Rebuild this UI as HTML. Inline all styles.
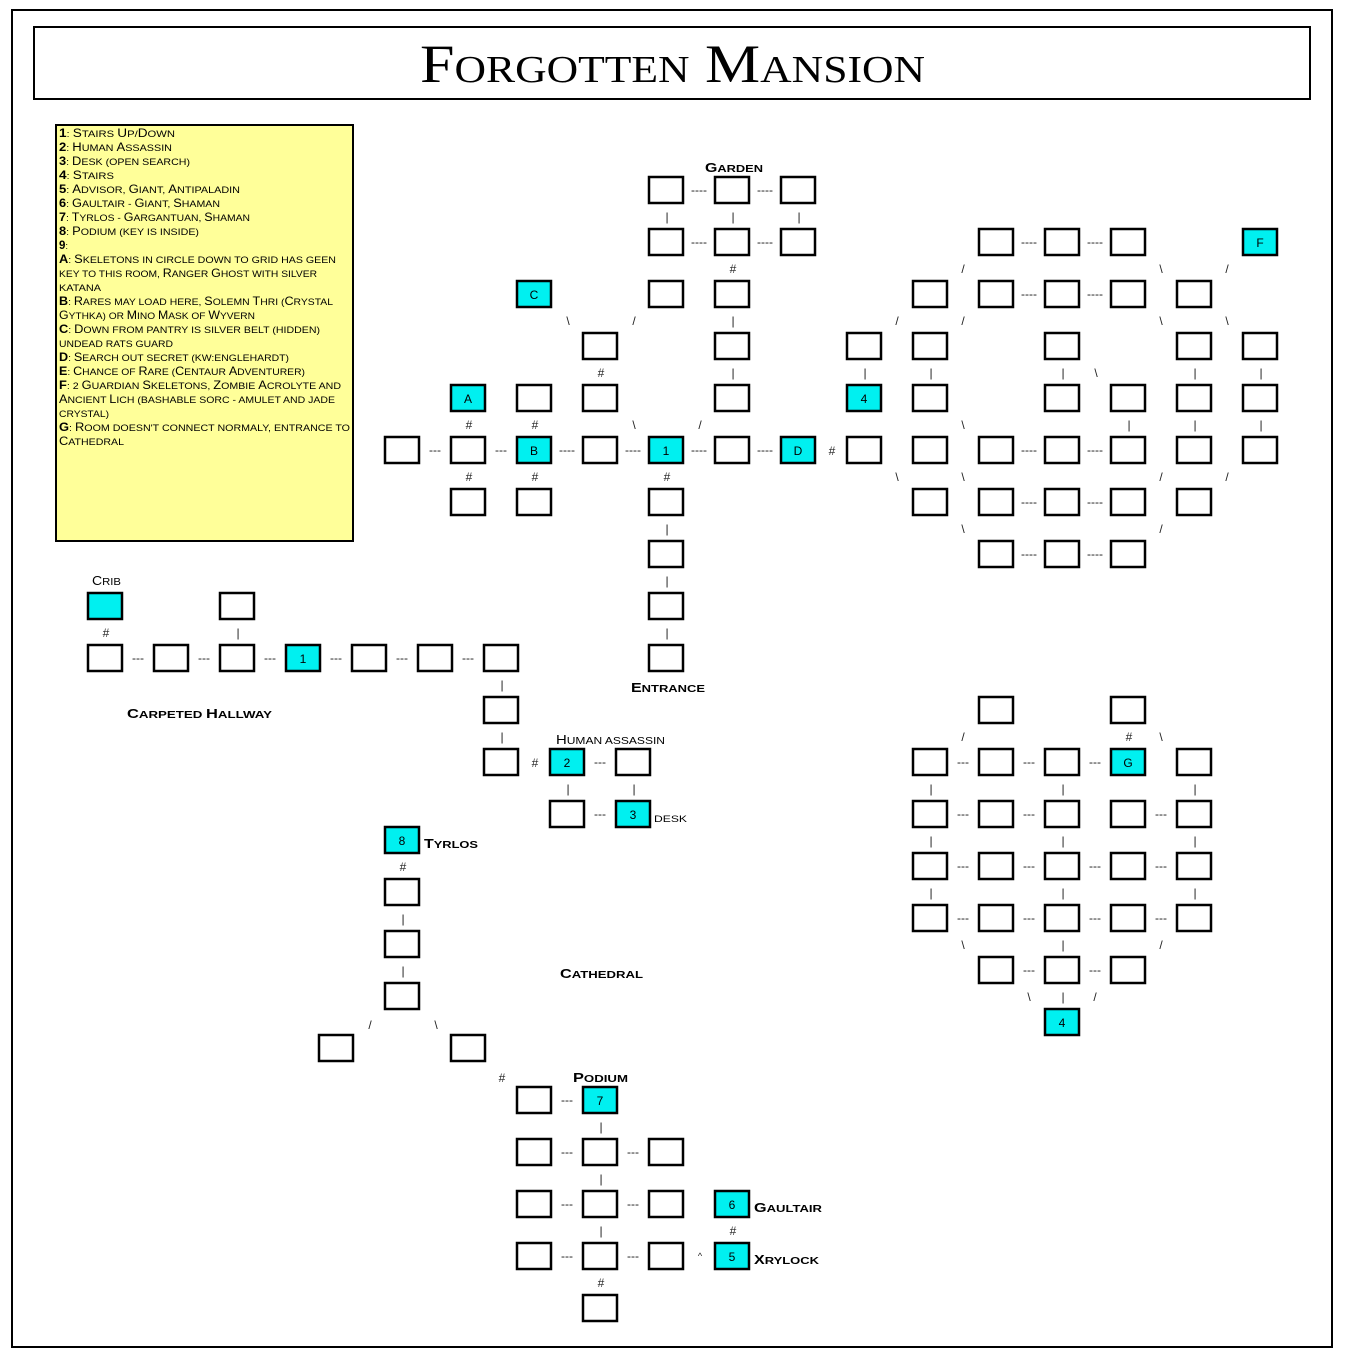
<!DOCTYPE html>
<html><head><meta charset="utf-8"><style>
html,body{margin:0;padding:0;background:#fff}
svg{display:block}
.b{fill:#fff;stroke:#000;stroke-width:2.5}
.c{fill:#00f0f0;stroke:#000;stroke-width:2.5}
.t{font-family:"Liberation Sans",sans-serif;font-size:12px;text-anchor:middle;fill:#000}
.k{font-family:"Liberation Sans",sans-serif;font-size:12px;text-anchor:middle;fill:#222}
.l{font-family:"Liberation Sans",sans-serif;font-weight:bold;font-size:10.5px;fill:#000}
.l tspan{font-size:13px}
.g{font-family:"Liberation Sans",sans-serif;font-size:9.5px;fill:#000}
.g tspan{font-size:11.5px}
.g tspan.n{font-weight:bold}
</style></head><body>
<svg width="1346" height="1360" xmlns="http://www.w3.org/2000/svg">
<rect x="12" y="10" width="1320" height="1337" fill="#fff" stroke="#000" stroke-width="2"/>
<rect x="34" y="27" width="1276" height="72" fill="#fff" stroke="#000" stroke-width="2"/>
<text x="420" y="82" textLength="505" lengthAdjust="spacingAndGlyphs" style="font-family:'Liberation Serif',serif;font-variant:small-caps;font-size:54px;fill:#000">Forgotten Mansion</text>

<rect x="56" y="125" width="297" height="416" fill="#ffff99" stroke="#000" stroke-width="2"/>
<g class="g">
<text x="59" y="137" textLength="116" lengthAdjust="spacingAndGlyphs"><tspan class="n">1</tspan>: <tspan>S</tspan>TAIRS <tspan>U</tspan>P/<tspan>D</tspan>OWN</text>
<text x="59" y="151" textLength="113" lengthAdjust="spacingAndGlyphs"><tspan class="n">2</tspan>: <tspan>H</tspan>UMAN <tspan>A</tspan>SSASSIN</text>
<text x="59" y="165" textLength="131" lengthAdjust="spacingAndGlyphs"><tspan class="n">3</tspan>: <tspan>D</tspan>ESK (OPEN SEARCH)</text>
<text x="59" y="179" textLength="55" lengthAdjust="spacingAndGlyphs"><tspan class="n">4</tspan>: <tspan>S</tspan>TAIRS</text>
<text x="59" y="193" textLength="181" lengthAdjust="spacingAndGlyphs"><tspan class="n">5</tspan>: <tspan>A</tspan>DVISOR, <tspan>G</tspan>IANT, <tspan>A</tspan>NTIPALADIN</text>
<text x="59" y="207" textLength="161" lengthAdjust="spacingAndGlyphs"><tspan class="n">6</tspan>: <tspan>G</tspan>AULTAIR - <tspan>G</tspan>IANT, <tspan>S</tspan>HAMAN</text>
<text x="59" y="221" textLength="191" lengthAdjust="spacingAndGlyphs"><tspan class="n">7</tspan>: <tspan>T</tspan>YRLOS - <tspan>G</tspan>ARGANTUAN, <tspan>S</tspan>HAMAN</text>
<text x="59" y="235" textLength="140" lengthAdjust="spacingAndGlyphs"><tspan class="n">8</tspan>: <tspan>P</tspan>ODIUM (KEY IS INSIDE)</text>
<text x="59" y="249"><tspan class="n">9</tspan>:</text>
<text x="59" y="263" textLength="277" lengthAdjust="spacingAndGlyphs"><tspan class="n">A</tspan>: <tspan>S</tspan>KELETONS IN CIRCLE DOWN TO GRID HAS GEEN</text>
<text x="59" y="277" textLength="258" lengthAdjust="spacingAndGlyphs">KEY TO THIS ROOM, <tspan>R</tspan>ANGER <tspan>G</tspan>HOST WITH SILVER</text>
<text x="59" y="291" textLength="42" lengthAdjust="spacingAndGlyphs">KATANA</text>
<text x="59" y="305" textLength="274" lengthAdjust="spacingAndGlyphs"><tspan class="n">B</tspan>: <tspan>R</tspan>ARES MAY LOAD HERE, <tspan>S</tspan>OLEMN <tspan>T</tspan>HRI (<tspan>C</tspan>RYSTAL</text>
<text x="59" y="319" textLength="196" lengthAdjust="spacingAndGlyphs"><tspan>G</tspan>YTHKA) OR <tspan>M</tspan>INO <tspan>M</tspan>ASK OF <tspan>W</tspan>YVERN</text>
<text x="59" y="333" textLength="261" lengthAdjust="spacingAndGlyphs"><tspan class="n">C</tspan>: <tspan>D</tspan>OWN FROM PANTRY IS SILVER BELT (HIDDEN)</text>
<text x="59" y="347" textLength="114" lengthAdjust="spacingAndGlyphs">UNDEAD RATS GUARD</text>
<text x="59" y="361" textLength="230" lengthAdjust="spacingAndGlyphs"><tspan class="n">D</tspan>: <tspan>S</tspan>EARCH OUT SECRET (KW:ENGLEHARDT)</text>
<text x="59" y="375" textLength="246" lengthAdjust="spacingAndGlyphs"><tspan class="n">E</tspan>: <tspan>C</tspan>HANCE OF <tspan>R</tspan>ARE (<tspan>C</tspan>ENTAUR <tspan>A</tspan>DVENTURER)</text>
<text x="59" y="389" textLength="282" lengthAdjust="spacingAndGlyphs"><tspan class="n">F</tspan>: 2 <tspan>G</tspan>UARDIAN <tspan>S</tspan>KELETONS, <tspan>Z</tspan>OMBIE <tspan>A</tspan>CROLYTE AND</text>
<text x="59" y="403" textLength="276" lengthAdjust="spacingAndGlyphs"><tspan>A</tspan>NCIENT <tspan>L</tspan>ICH (BASHABLE SORC - AMULET AND JADE</text>
<text x="59" y="417" textLength="50" lengthAdjust="spacingAndGlyphs">CRYSTAL)</text>
<text x="59" y="431" textLength="291" lengthAdjust="spacingAndGlyphs"><tspan class="n">G</tspan>: <tspan>R</tspan>OOM DOESN'T CONNECT NORMALY, ENTRANCE TO</text>
<text x="59" y="445" textLength="65" lengthAdjust="spacingAndGlyphs"><tspan>C</tspan>ATHEDRAL</text>
</g>

<!-- labels -->
<g class="l">
<text x="705" y="172" textLength="58" lengthAdjust="spacingAndGlyphs"><tspan>G</tspan>ARDEN</text>
<text x="631" y="692" textLength="74" lengthAdjust="spacingAndGlyphs"><tspan>E</tspan>NTRANCE</text>
<text x="92" y="585" textLength="29" lengthAdjust="spacingAndGlyphs" style="font-weight:normal"><tspan>C</tspan>RIB</text>
<text x="127" y="718" textLength="145" lengthAdjust="spacingAndGlyphs"><tspan>C</tspan>ARPETED <tspan>H</tspan>ALLWAY</text>
<text x="556" y="744" textLength="109" lengthAdjust="spacingAndGlyphs" style="font-weight:normal"><tspan>H</tspan>UMAN ASSASSIN</text>
<text x="654" y="822" textLength="33" lengthAdjust="spacingAndGlyphs" style="font-weight:normal;font-size:9.5px">DESK</text>
<text x="424" y="848" textLength="54" lengthAdjust="spacingAndGlyphs"><tspan>T</tspan>YRLOS</text>
<text x="560" y="978" textLength="83" lengthAdjust="spacingAndGlyphs"><tspan>C</tspan>ATHEDRAL</text>
<text x="573" y="1082" textLength="55" lengthAdjust="spacingAndGlyphs"><tspan>P</tspan>ODIUM</text>
<text x="754" y="1212" textLength="68" lengthAdjust="spacingAndGlyphs"><tspan>G</tspan>AULTAIR</text>
<text x="754" y="1264" textLength="65" lengthAdjust="spacingAndGlyphs"><tspan>X</tspan>RYLOCK</text>
</g>

<g class="b">
<rect x="649" y="177" width="34" height="26"/><rect x="715" y="177" width="34" height="26"/><rect x="781" y="177" width="34" height="26"/>
<rect x="649" y="229" width="34" height="26"/><rect x="715" y="229" width="34" height="26"/><rect x="781" y="229" width="34" height="26"/>
<rect x="649" y="281" width="34" height="26"/><rect x="715" y="281" width="34" height="26"/>
<rect x="583" y="333" width="34" height="26"/><rect x="715" y="333" width="34" height="26"/>
<rect x="517" y="385" width="34" height="26"/><rect x="583" y="385" width="34" height="26"/><rect x="715" y="385" width="34" height="26"/>
<rect x="385" y="437" width="34" height="26"/><rect x="451" y="437" width="34" height="26"/><rect x="583" y="437" width="34" height="26"/><rect x="715" y="437" width="34" height="26"/><rect x="847" y="437" width="34" height="26"/>
<rect x="451" y="489" width="34" height="26"/><rect x="517" y="489" width="34" height="26"/><rect x="649" y="489" width="34" height="26"/>
<rect x="649" y="541" width="34" height="26"/><rect x="649" y="593" width="34" height="26"/><rect x="649" y="645" width="34" height="26"/>
<rect x="979" y="229" width="34" height="26"/><rect x="1045" y="229" width="34" height="26"/><rect x="1111" y="229" width="34" height="26"/>
<rect x="913" y="281" width="34" height="26"/><rect x="979" y="281" width="34" height="26"/><rect x="1045" y="281" width="34" height="26"/><rect x="1111" y="281" width="34" height="26"/><rect x="1177" y="281" width="34" height="26"/>
<rect x="847" y="333" width="34" height="26"/><rect x="913" y="333" width="34" height="26"/><rect x="1045" y="333" width="34" height="26"/><rect x="1177" y="333" width="34" height="26"/><rect x="1243" y="333" width="34" height="26"/>
<rect x="913" y="385" width="34" height="26"/><rect x="1045" y="385" width="34" height="26"/><rect x="1111" y="385" width="34" height="26"/><rect x="1177" y="385" width="34" height="26"/><rect x="1243" y="385" width="34" height="26"/>
<rect x="913" y="437" width="34" height="26"/><rect x="979" y="437" width="34" height="26"/><rect x="1045" y="437" width="34" height="26"/><rect x="1111" y="437" width="34" height="26"/><rect x="1177" y="437" width="34" height="26"/><rect x="1243" y="437" width="34" height="26"/>
<rect x="913" y="489" width="34" height="26"/><rect x="979" y="489" width="34" height="26"/><rect x="1045" y="489" width="34" height="26"/><rect x="1111" y="489" width="34" height="26"/><rect x="1177" y="489" width="34" height="26"/>
<rect x="979" y="541" width="34" height="26"/><rect x="1045" y="541" width="34" height="26"/><rect x="1111" y="541" width="34" height="26"/>
<rect x="979" y="697" width="34" height="26"/><rect x="1111" y="697" width="34" height="26"/>
<rect x="913" y="749" width="34" height="26"/><rect x="979" y="749" width="34" height="26"/><rect x="1045" y="749" width="34" height="26"/><rect x="1177" y="749" width="34" height="26"/>
<rect x="913" y="801" width="34" height="26"/><rect x="979" y="801" width="34" height="26"/><rect x="1045" y="801" width="34" height="26"/><rect x="1111" y="801" width="34" height="26"/><rect x="1177" y="801" width="34" height="26"/>
<rect x="913" y="853" width="34" height="26"/><rect x="979" y="853" width="34" height="26"/><rect x="1045" y="853" width="34" height="26"/><rect x="1111" y="853" width="34" height="26"/><rect x="1177" y="853" width="34" height="26"/>
<rect x="913" y="905" width="34" height="26"/><rect x="979" y="905" width="34" height="26"/><rect x="1045" y="905" width="34" height="26"/><rect x="1111" y="905" width="34" height="26"/><rect x="1177" y="905" width="34" height="26"/>
<rect x="979" y="957" width="34" height="26"/><rect x="1045" y="957" width="34" height="26"/><rect x="1111" y="957" width="34" height="26"/>
<rect x="220" y="593" width="34" height="26"/>
<rect x="88" y="645" width="34" height="26"/><rect x="154" y="645" width="34" height="26"/><rect x="220" y="645" width="34" height="26"/><rect x="352" y="645" width="34" height="26"/><rect x="418" y="645" width="34" height="26"/><rect x="484" y="645" width="34" height="26"/>
<rect x="484" y="697" width="34" height="26"/><rect x="484" y="749" width="34" height="26"/><rect x="616" y="749" width="34" height="26"/><rect x="550" y="801" width="34" height="26"/>
<rect x="385" y="879" width="34" height="26"/><rect x="385" y="931" width="34" height="26"/><rect x="385" y="983" width="34" height="26"/>
<rect x="319" y="1035" width="34" height="26"/><rect x="451" y="1035" width="34" height="26"/>
<rect x="517" y="1087" width="34" height="26"/>
<rect x="517" y="1139" width="34" height="26"/><rect x="583" y="1139" width="34" height="26"/><rect x="649" y="1139" width="34" height="26"/>
<rect x="517" y="1191" width="34" height="26"/><rect x="583" y="1191" width="34" height="26"/><rect x="649" y="1191" width="34" height="26"/>
<rect x="517" y="1243" width="34" height="26"/><rect x="583" y="1243" width="34" height="26"/><rect x="649" y="1243" width="34" height="26"/>
<rect x="583" y="1295" width="34" height="26"/>
</g>

<g class="c">
<rect x="517" y="281" width="34" height="26"/>
<rect x="451" y="385" width="34" height="26"/>
<rect x="517" y="437" width="34" height="26"/>
<rect x="649" y="437" width="34" height="26"/>
<rect x="781" y="437" width="34" height="26"/>
<rect x="847" y="385" width="34" height="26"/>
<rect x="1243" y="229" width="34" height="26"/>
<rect x="1111" y="749" width="34" height="26"/>
<rect x="1045" y="1009" width="34" height="26"/>
<rect x="88" y="593" width="34" height="26"/>
<rect x="286" y="645" width="34" height="26"/>
<rect x="550" y="749" width="34" height="26"/>
<rect x="616" y="801" width="34" height="26"/>
<rect x="385" y="827" width="34" height="26"/>
<rect x="583" y="1087" width="34" height="26"/>
<rect x="715" y="1191" width="34" height="26"/>
<rect x="715" y="1243" width="34" height="26"/>
</g>
<g class="t">
<text x="534" y="299">C</text><text x="468" y="403">A</text><text x="534" y="455">B</text><text x="666" y="455">1</text><text x="798" y="455">D</text>
<text x="864" y="403">4</text><text x="1260" y="247">F</text><text x="1128" y="767">G</text><text x="1062" y="1027">4</text>
<text x="303" y="663">1</text><text x="567" y="767">2</text><text x="633" y="819">3</text><text x="402" y="845">8</text>
<text x="600" y="1105">7</text><text x="732" y="1209">6</text><text x="732" y="1261">5</text>
</g>

<g class="k">
<text x="699" y="194">----</text><text x="765" y="194">----</text>
<text x="699" y="246">----</text><text x="765" y="246">----</text>
<text x="667" y="221">|</text><text x="733" y="221">|</text><text x="799" y="221">|</text>
<text x="733" y="273">#</text><text x="733" y="325">|</text><text x="733" y="377">|</text>
<text x="568" y="325">\</text><text x="634" y="325">/</text>
<text x="601" y="377">#</text>
<text x="469" y="429">#</text><text x="535" y="429">#</text><text x="634" y="429">\</text><text x="700" y="429">/</text>
<text x="435" y="454">---</text><text x="501" y="454">---</text><text x="567" y="454">----</text><text x="633" y="454">----</text><text x="699" y="454">----</text><text x="765" y="454">----</text><text x="832" y="455">#</text>
<text x="469" y="481">#</text><text x="535" y="481">#</text><text x="667" y="481">#</text>
<text x="667" y="533">|</text><text x="667" y="585">|</text><text x="667" y="637">|</text>
<text x="1029" y="246">----</text><text x="1095" y="246">----</text>
<text x="963" y="273">/</text><text x="1161" y="273">\</text><text x="1227" y="273">/</text>
<text x="1029" y="298">----</text><text x="1095" y="298">----</text>
<text x="897" y="325">/</text><text x="963" y="325">/</text><text x="1161" y="325">\</text><text x="1227" y="325">\</text>
<text x="865" y="377">|</text><text x="931" y="377">|</text><text x="1063" y="377">|</text><text x="1096" y="377">\</text><text x="1195" y="377">|</text><text x="1261" y="377">|</text>
<text x="963" y="429">\</text><text x="1129" y="429">|</text><text x="1195" y="429">|</text><text x="1261" y="429">|</text>
<text x="1029" y="454">----</text><text x="1095" y="454">----</text>
<text x="897" y="481">\</text><text x="963" y="481">\</text><text x="1161" y="481">/</text><text x="1227" y="481">/</text>
<text x="1029" y="506">----</text><text x="1095" y="506">----</text>
<text x="963" y="533">\</text><text x="1161" y="533">/</text>
<text x="1029" y="558">----</text><text x="1095" y="558">----</text>
<text x="963" y="741">/</text><text x="1129" y="741">#</text><text x="1161" y="741">\</text>
<text x="963" y="766">---</text><text x="1029" y="766">---</text><text x="1095" y="766">---</text>
<text x="931" y="793">|</text><text x="1063" y="793">|</text><text x="1195" y="793">|</text>
<text x="963" y="818">---</text><text x="1029" y="818">---</text><text x="1161" y="818">---</text>
<text x="931" y="845">|</text><text x="1063" y="845">|</text><text x="1195" y="845">|</text>
<text x="963" y="870">---</text><text x="1029" y="870">---</text><text x="1095" y="870">---</text><text x="1161" y="870">---</text>
<text x="931" y="897">|</text><text x="1063" y="897">|</text><text x="1195" y="897">|</text>
<text x="963" y="922">---</text><text x="1029" y="922">---</text><text x="1095" y="922">---</text><text x="1161" y="922">---</text>
<text x="963" y="949">\</text><text x="1063" y="949">|</text><text x="1161" y="949">/</text>
<text x="1029" y="974">---</text><text x="1095" y="974">---</text>
<text x="1029" y="1001">\</text><text x="1063" y="1001">|</text><text x="1095" y="1001">/</text>
<text x="106" y="637">#</text><text x="238" y="637">|</text>
<text x="138" y="662">---</text><text x="204" y="662">---</text><text x="270" y="662">---</text><text x="336" y="662">---</text><text x="402" y="662">---</text><text x="468" y="662">---</text>
<text x="502" y="689">|</text><text x="502" y="741">|</text>
<text x="535" y="767">#</text><text x="600" y="766">---</text>
<text x="568" y="793">|</text><text x="634" y="793">|</text>
<text x="600" y="818">---</text>
<text x="403" y="871">#</text><text x="403" y="923">|</text><text x="403" y="975">|</text>
<text x="370" y="1029">/</text><text x="436" y="1029">\</text>
<text x="502" y="1082">#</text>
<text x="567" y="1104">---</text>
<text x="601" y="1131">|</text>
<text x="567" y="1156">---</text><text x="633" y="1156">---</text>
<text x="601" y="1183">|</text>
<text x="567" y="1208">---</text><text x="633" y="1208">---</text>
<text x="601" y="1235">|</text><text x="733" y="1235">#</text>
<text x="567" y="1260">---</text><text x="633" y="1260">---</text><text x="700" y="1259" style="font-size:9px">^</text>
<text x="601" y="1287">#</text>
</g>
</svg>
</body></html>
